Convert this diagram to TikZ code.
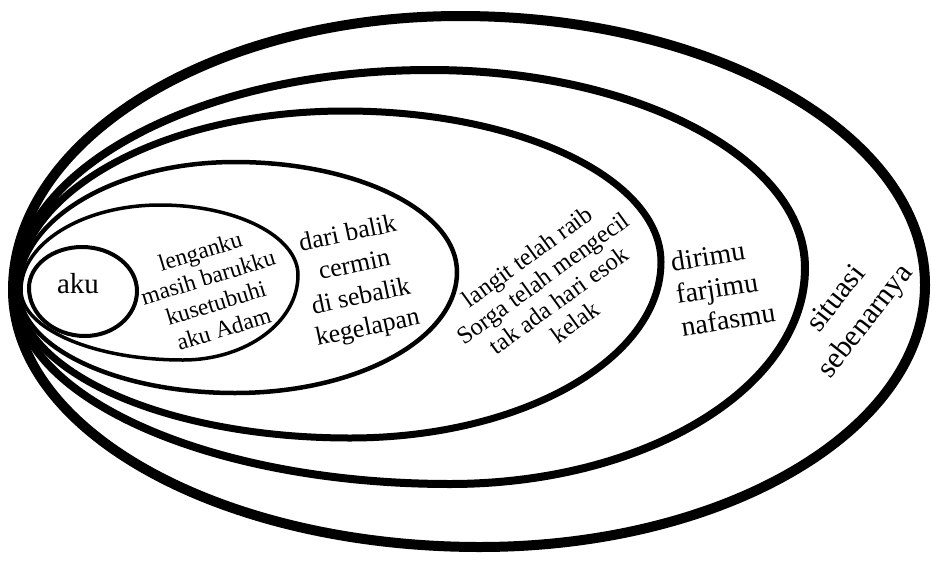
\documentclass[tikz,border=0pt]{standalone}
\usepackage{fontspec}
\setmainfont{Liberation Serif}
% egg-shaped closed curve: left (x,y), top (x,y), right (x,y), bottom (x,y)
\newcommand\eggp[8]{(#1,#2) .. controls (#1,{#2+0.552*(#4-#2)}) and ({#3-0.552*(#3-#1)},#4) .. (#3,#4) .. controls ({#3+0.552*(#5-#3)},#4) and (#5,{#6-0.552*(#6-#4)}) .. (#5,#6) .. controls (#5,{#6+0.552*(#8-#6)}) and ({#7+0.552*(#5-#7)},#8) .. (#7,#8) .. controls ({#7-0.552*(#7-#1)},#8) and (#1,{#2+0.552*(#8-#2)}) .. (#1,#2) -- cycle}
\begin{document}
\begin{tikzpicture}[x=1pt,y=-1pt,
  ring/.style={draw=black,line join=round},
  lbl/.style={inner sep=0pt,text=black}]
\useasboundingbox (0,0) rectangle (932,560);
\fill[white] (0,0) rectangle (932,560);
% rings, outermost first
\draw[ring,line width=10pt] \eggp{13}{290}{460}{16}{925}{285}{480}{547};
\draw[ring,line width=8pt] \eggp{15}{290}{430}{70}{805}{268}{450}{484};
\draw[ring,line width=7pt] \eggp{17}{290}{345}{111}{661}{262}{350}{438};
\draw[ring,line width=4.5pt] \eggp{19}{290}{235}{162}{457}{272}{235}{393};
\draw[ring,line width=3.5pt] \eggp{21}{290}{160}{205}{298}{275}{183}{360};
\draw[ring,line width=4pt] \eggp{29}{288}{82}{247}{137}{291}{85}{336};
% labels
\node[lbl,font={\fontsize{29}{32}\selectfont}] (aku) at (78,284) {aku};
\node[lbl,rotate=17,align=center,font={\fontsize{23.5}{27}\selectfont}] (t2) at (212,290)
  {lenganku\\masih barukku\\kusetubuhi\\aku Adam};
\node[lbl,rotate=12,align=center,font={\fontsize{26}{32}\selectfont}] (t3) at (358,282)
  {dari balik\\cermin\\di sebalik\\kegelapan};
\node[lbl,rotate=36,align=center,font={\fontsize{24.5}{27}\selectfont}] (t4) at (551,289)
  {langit telah raib\\Sorga telah mengecil\\tak ada hari esok\\kelak};
\node[lbl,rotate=9,align=left,font={\fontsize{28}{33}\selectfont}] (t5) at (723,287)
  {dirimu\\farjimu\\nafasmu};
\node[lbl,rotate=52,align=center,font={\fontsize{30}{37}\selectfont}] (t6) at (852,311)
  {situasi\\sebenarnya};
\end{tikzpicture}
\end{document}
